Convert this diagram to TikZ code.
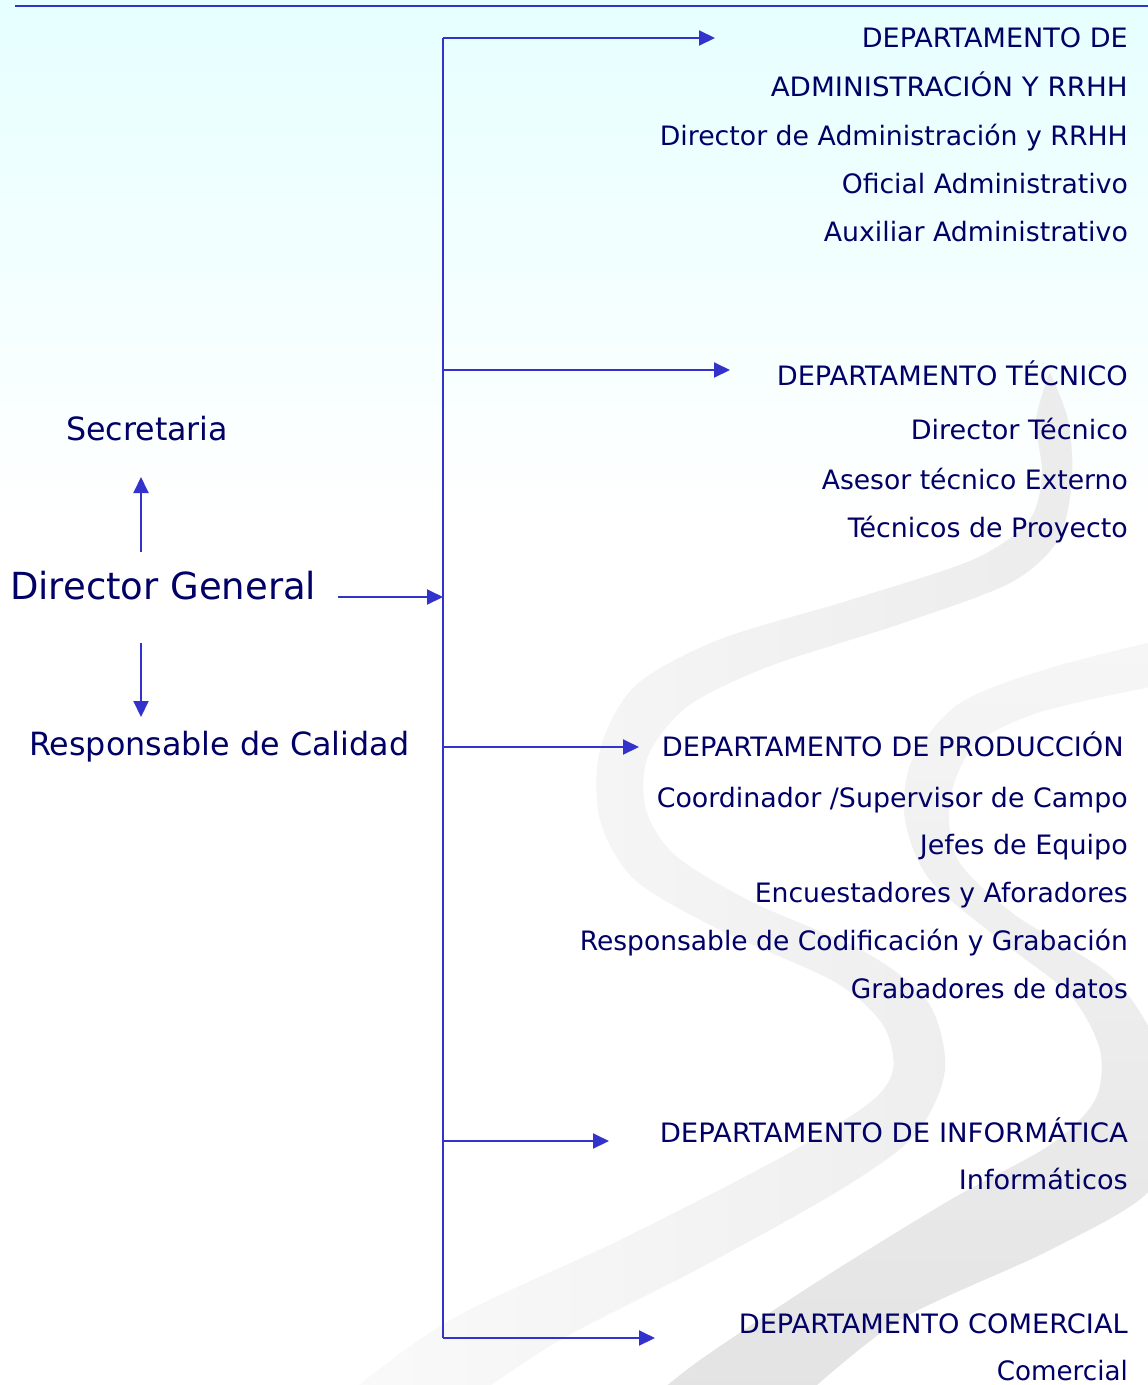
\documentclass[tikz,border=0pt]{standalone}
\usepackage{fontspec}
\setmainfont{DejaVu Sans}
\usetikzlibrary{arrows.meta}
\definecolor{txtcol}{RGB}{0,0,102}
\definecolor{linecol}{RGB}{51,51,204}
\definecolor{bgtop}{RGB}{230,255,255}
\newcommand{\fitwidth}[2]{\resizebox{#1pt}{\height}{#2}}
\tikzset{
  ln/.style={draw=linecol, line width=2pt},
  arr/.style={ln, -{Triangle[length=16pt,width=15pt]}},
  rtxt/.style={text=txtcol, inner sep=0pt, anchor=base east, font=\fontsize{26.7}{32}\selectfont},
  ltxt/.style={text=txtcol, inner sep=0pt, anchor=base west, font=\fontsize{32}{38}\selectfont},
  bigtxt/.style={text=txtcol, inner sep=0pt, anchor=base west, font=\fontsize{37.3}{44}\selectfont},
}
\begin{document}
\begin{tikzpicture}[x=1pt,y=-1pt]
\useasboundingbox (0,0) rectangle (1148,1385);
% background
\fill[white] (0,0) rectangle (1148,1385);
\shade[top color=bgtop, bottom color=white] (0,0) rectangle (1148,520);
\begin{scope}
\clip (0,0) rectangle (1148,1385);
% ribbon A
\shade[left color=gray!4, right color=gray!15]
  plot[smooth] coordinates {(1050,372) (1068,420) (1072,480) (1058,540) (1010,583) (900,624) (770,666) (688,706) (648,756) (646,810) (676,856) (752,902) (865,952) (928,1002) (945,1070) (915,1135) (840,1190) (700,1268) (560,1340) (470,1400)}
  -- plot[smooth] coordinates {(340,1400) (450,1320) (620,1240) (780,1158) (868,1104) (893,1070) (883,1025) (835,982) (720,930) (635,880) (600,820) (600,750) (635,686) (718,640) (850,600) (972,560) (1028,522) (1042,475) (1036,420) (1050,372)}
  -- cycle;
% ribbon B
\shade[top color=gray!7, bottom color=gray!22]
  plot[smooth] coordinates {(1160,640) (1050,668) (960,703) (912,760) (905,820) (930,880) (1000,940) (1070,995) (1100,1050) (1095,1100) (1050,1145) (950,1200) (820,1280) (700,1360) (650,1400)}
  -- plot[smooth] coordinates {(800,1400) (900,1320) (1050,1250) (1150,1190) (1170,1110) (1155,1040) (1110,975) (1015,915) (958,860) (950,800) (975,745) (1040,712) (1160,685)}
  -- cycle;
\end{scope}
% top rule
\coordinate (tl1) at (15,6);
\coordinate (tl2) at (1148,6);
\draw[draw=linecol, line width=2.5pt] (tl1) -- (tl2);

% left column
\node[ltxt] (sec) at (66,440) {\fitwidth{162}{Secretaria}};
\node[bigtxt] (dg) at (10,599) {\fitwidth{306}{Director General}};
\node[ltxt] (cal) at (29,755) {\fitwidth{380}{Responsable de Calidad}};

% right column
\node[rtxt] (d1a) at (1128,47) {\fitwidth{266}{DEPARTAMENTO DE}};
\node[rtxt] (d1b) at (1128,96) {\fitwidth{357}{ADMINISTRACIÓN Y RRHH}};
\node[rtxt] (d1c) at (1128,145) {\fitwidth{468}{Director de Administración y RRHH}};
\node[rtxt] (d1d) at (1128,193) {\fitwidth{286}{Oficial Administrativo}};
\node[rtxt] (d1e) at (1128,241) {\fitwidth{304}{Auxiliar Administrativo}};

\node[rtxt] (d2a) at (1128,385) {\fitwidth{351}{DEPARTAMENTO TÉCNICO}};
\node[rtxt] (d2b) at (1128,439) {\fitwidth{217}{Director Técnico}};
\node[rtxt] (d2c) at (1128,489) {\fitwidth{306}{Asesor técnico Externo}};
\node[rtxt] (d2d) at (1128,537) {\fitwidth{280}{Técnicos de Proyecto}};

\node[rtxt] (d3a) at (1124,756) {\fitwidth{462}{DEPARTAMENTO DE PRODUCCIÓN}};
\node[rtxt] (d3b) at (1128,807) {\fitwidth{471}{Coordinador /Supervisor de Campo}};
\node[rtxt] (d3c) at (1128,854) {\fitwidth{208}{Jefes de Equipo}};
\node[rtxt] (d3d) at (1128,902) {\fitwidth{373}{Encuestadores y Aforadores}};
\node[rtxt] (d3e) at (1128,950) {\fitwidth{548}{Responsable de Codificación y Grabación}};
\node[rtxt] (d3f) at (1128,998) {\fitwidth{277}{Grabadores de datos}};

\node[rtxt] (d4a) at (1128,1142) {\fitwidth{468}{DEPARTAMENTO DE INFORMÁTICA}};
\node[rtxt] (d4b) at (1128,1189) {\fitwidth{169}{Informáticos}};

\node[rtxt] (d5a) at (1128,1333) {\fitwidth{389}{DEPARTAMENTO COMERCIAL}};
\node[rtxt] (d5b) at (1128,1380) {\fitwidth{131}{Comercial}};

% trunk
\coordinate (j1) at (443,38);
\coordinate (j2) at (443,370);
\coordinate (jdg) at (443,597);
\coordinate (j3) at (443,747);
\coordinate (j4) at (443,1141);
\coordinate (j5) at (443,1338);
\draw[ln] (j1) -- (j5);

% branch arrows
\coordinate (e1) at (715,38);
\coordinate (e2) at (730,370);
\coordinate (e3) at (639,747);
\coordinate (e4) at (609,1141);
\coordinate (e5) at (655,1338);
\draw[arr] (j1) -- (e1);
\draw[arr] (j2) -- (e2);
\draw[arr] (j3) -- (e3);
\draw[arr] (j4) -- (e4);
\draw[arr] (j5) -- (e5);

% director general arrows
\coordinate (dgs) at (338,597);
\draw[arr] (dgs) -- (jdg);
\coordinate (su) at (141,552);
\coordinate (st) at (141,477);
\draw[arr] (su) -- (st);
\coordinate (cu) at (141,643);
\coordinate (ct) at (141,717);
\draw[arr] (cu) -- (ct);
\end{tikzpicture}
\end{document}
